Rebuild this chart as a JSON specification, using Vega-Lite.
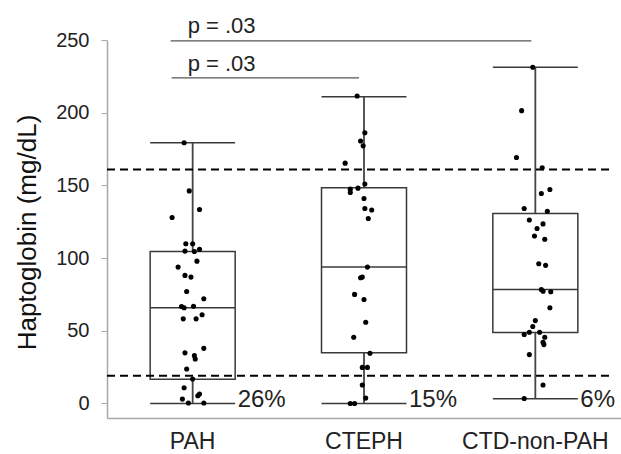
{
  "$schema": "https://vega.github.io/schema/vega-lite/v6.json",
  "width": 514,
  "height": 378,
  "autosize": "none",
  "padding": {"left": 107, "top": 40, "right": 0, "bottom": 36},
  "config": {
    "view": {"stroke": null},
    "font": "Liberation Sans"
  },
  "datasets": {
    "boxes": [
      {"group": "PAH", "lower": 0, "q1": 16.6, "median": 65.8, "q3": 104.6, "upper": 179.3, "pct": "26%"},
      {"group": "CTEPH", "lower": 0, "q1": 34.8, "median": 93.8, "q3": 148.3, "upper": 211, "pct": "15%"},
      {"group": "CTD-non-PAH", "lower": 3.2, "q1": 48.8, "median": 78.4, "q3": 130.6, "upper": 231.3, "pct": "6%"}
    ],
    "points": [
      {"group": "PAH", "value": 179.3, "jitter": -0.10},
      {"group": "PAH", "value": 146.2, "jitter": -0.04},
      {"group": "PAH", "value": 133.4, "jitter": 0.08},
      {"group": "PAH", "value": 127.9, "jitter": -0.24},
      {"group": "PAH", "value": 109.9, "jitter": -0.08},
      {"group": "PAH", "value": 109.9, "jitter": 0.00},
      {"group": "PAH", "value": 104.8, "jitter": -0.09},
      {"group": "PAH", "value": 104.5, "jitter": 0.02},
      {"group": "PAH", "value": 106.0, "jitter": 0.08},
      {"group": "PAH", "value": 97.9, "jitter": 0.05},
      {"group": "PAH", "value": 93.8, "jitter": -0.17},
      {"group": "PAH", "value": 88.1, "jitter": -0.09},
      {"group": "PAH", "value": 86.9, "jitter": -0.02},
      {"group": "PAH", "value": 77.0, "jitter": -0.07},
      {"group": "PAH", "value": 72.0, "jitter": 0.13},
      {"group": "PAH", "value": 66.7, "jitter": -0.13},
      {"group": "PAH", "value": 65.8, "jitter": -0.10},
      {"group": "PAH", "value": 66.9, "jitter": 0.01},
      {"group": "PAH", "value": 61.0, "jitter": 0.11},
      {"group": "PAH", "value": 58.2, "jitter": -0.11},
      {"group": "PAH", "value": 58.2, "jitter": 0.04},
      {"group": "PAH", "value": 37.9, "jitter": 0.13},
      {"group": "PAH", "value": 34.8, "jitter": -0.09},
      {"group": "PAH", "value": 32.9, "jitter": 0.02},
      {"group": "PAH", "value": 30.6, "jitter": 0.03},
      {"group": "PAH", "value": 23.7, "jitter": -0.07},
      {"group": "PAH", "value": 16.8, "jitter": 0.00},
      {"group": "PAH", "value": 10.8, "jitter": -0.10},
      {"group": "PAH", "value": 6.5, "jitter": 0.08},
      {"group": "PAH", "value": 5.3, "jitter": 0.06},
      {"group": "PAH", "value": 3.0, "jitter": -0.12},
      {"group": "PAH", "value": 0.3, "jitter": -0.05},
      {"group": "PAH", "value": 0.3, "jitter": 0.13},
      {"group": "CTEPH", "value": 211.5, "jitter": -0.08},
      {"group": "CTEPH", "value": 186.2, "jitter": 0.01},
      {"group": "CTEPH", "value": 180.5, "jitter": -0.04},
      {"group": "CTEPH", "value": 177.2, "jitter": -0.01},
      {"group": "CTEPH", "value": 165.3, "jitter": -0.22},
      {"group": "CTEPH", "value": 151.0, "jitter": 0.01},
      {"group": "CTEPH", "value": 147.4, "jitter": -0.16},
      {"group": "CTEPH", "value": 148.1, "jitter": -0.07},
      {"group": "CTEPH", "value": 145.1, "jitter": -0.16},
      {"group": "CTEPH", "value": 141.0, "jitter": 0.00},
      {"group": "CTEPH", "value": 134.1, "jitter": 0.01},
      {"group": "CTEPH", "value": 133.1, "jitter": 0.09},
      {"group": "CTEPH", "value": 127.2, "jitter": 0.05},
      {"group": "CTEPH", "value": 93.8, "jitter": 0.04},
      {"group": "CTEPH", "value": 86.5, "jitter": -0.04},
      {"group": "CTEPH", "value": 86.9, "jitter": -0.02},
      {"group": "CTEPH", "value": 75.0, "jitter": -0.11},
      {"group": "CTEPH", "value": 71.5, "jitter": 0.00},
      {"group": "CTEPH", "value": 55.9, "jitter": 0.02},
      {"group": "CTEPH", "value": 45.5, "jitter": -0.12},
      {"group": "CTEPH", "value": 34.5, "jitter": 0.07},
      {"group": "CTEPH", "value": 24.8, "jitter": -0.02},
      {"group": "CTEPH", "value": 24.8, "jitter": 0.04},
      {"group": "CTEPH", "value": 12.7, "jitter": -0.02},
      {"group": "CTEPH", "value": 3.7, "jitter": 0.02},
      {"group": "CTEPH", "value": 0.0, "jitter": -0.16},
      {"group": "CTEPH", "value": 0.0, "jitter": -0.11},
      {"group": "CTD-non-PAH", "value": 231.3, "jitter": -0.03},
      {"group": "CTD-non-PAH", "value": 201.4, "jitter": -0.16},
      {"group": "CTD-non-PAH", "value": 169.2, "jitter": -0.22},
      {"group": "CTD-non-PAH", "value": 162.1, "jitter": 0.08},
      {"group": "CTD-non-PAH", "value": 147.2, "jitter": 0.17},
      {"group": "CTD-non-PAH", "value": 144.4, "jitter": 0.07},
      {"group": "CTD-non-PAH", "value": 134.1, "jitter": -0.13},
      {"group": "CTD-non-PAH", "value": 132.2, "jitter": 0.14},
      {"group": "CTD-non-PAH", "value": 126.2, "jitter": -0.07},
      {"group": "CTD-non-PAH", "value": 123.5, "jitter": 0.09},
      {"group": "CTD-non-PAH", "value": 120.3, "jitter": 0.02},
      {"group": "CTD-non-PAH", "value": 115.2, "jitter": -0.01},
      {"group": "CTD-non-PAH", "value": 112.9, "jitter": 0.11},
      {"group": "CTD-non-PAH", "value": 96.1, "jitter": 0.04},
      {"group": "CTD-non-PAH", "value": 95.0, "jitter": 0.12},
      {"group": "CTD-non-PAH", "value": 78.4, "jitter": 0.07},
      {"group": "CTD-non-PAH", "value": 77.2, "jitter": 0.09},
      {"group": "CTD-non-PAH", "value": 76.8, "jitter": 0.18},
      {"group": "CTD-non-PAH", "value": 65.8, "jitter": 0.17},
      {"group": "CTD-non-PAH", "value": 57.0, "jitter": 0.00},
      {"group": "CTD-non-PAH", "value": 52.9, "jitter": -0.03},
      {"group": "CTD-non-PAH", "value": 49.0, "jitter": -0.07},
      {"group": "CTD-non-PAH", "value": 47.4, "jitter": -0.13},
      {"group": "CTD-non-PAH", "value": 49.0, "jitter": 0.05},
      {"group": "CTD-non-PAH", "value": 45.5, "jitter": 0.11},
      {"group": "CTD-non-PAH", "value": 42.1, "jitter": 0.09},
      {"group": "CTD-non-PAH", "value": 40.5, "jitter": 0.10},
      {"group": "CTD-non-PAH", "value": 33.6, "jitter": -0.07},
      {"group": "CTD-non-PAH", "value": 12.7, "jitter": 0.09},
      {"group": "CTD-non-PAH", "value": 3.4, "jitter": -0.13}
    ],
    "refs": [
      {"bound": "upper", "value": 161},
      {"bound": "lower", "value": 19}
    ],
    "pvals": [
      {"from": "PAH", "to": "CTD-non-PAH", "label": "p = .03", "level": "outer"},
      {"from": "PAH", "to": "CTEPH", "label": "p = .03", "level": "inner"}
    ]
  },
  "layer": [
    {
      "data": {"name": "boxes"},
      "mark": {"type": "rule", "color": "#444", "strokeWidth": 1.8},
      "encoding": {
        "x": {"field": "group", "type": "nominal", "title": null, "scale": {"domain": ["PAH", "CTEPH", "CTD-non-PAH"], "paddingInner": 0, "paddingOuter": 0},
          "axis": {"labelFontSize": 23, "labelColor": "#222", "ticks": false, "tickSize": 0, "labelPadding": 12, "domainColor": "#a8a8a8", "domainWidth": 1.5, "labelAngle": 0, "grid": false, "title": null}},
        "y": {"field": "lower", "type": "quantitative", "title": "Haptoglobin (mg/dL)", "scale": {"domain": [-10, 250], "nice": false, "zero": false},
          "axis": {"values": [0, 50, 100, 150, 200, 250], "labelFontSize": 20, "labelColor": "#222", "tickColor": "#a8a8a8", "tickSize": 6, "labelPadding": 12, "domainColor": "#a8a8a8", "domainWidth": 1.5, "grid": false, "titleFontSize": 26, "titleFontWeight": "normal", "titleColor": "#111", "titleX": -80, "titleY": 192, "titleAlign": "center", "titleBaseline": "middle", "titleAngle": -90}},
        "y2": {"field": "upper"}
      }
    },
    {
      "data": {"name": "boxes"},
      "mark": {"type": "bar", "fill": "white", "stroke": "#3a3a3a", "strokeWidth": 1.5, "size": 85},
      "encoding": {
        "x": {"field": "group", "type": "nominal", "title": null, "scale": {"domain": ["PAH", "CTEPH", "CTD-non-PAH"], "paddingInner": 0, "paddingOuter": 0}},
        "y": {"field": "q1", "type": "quantitative", "title": "Haptoglobin (mg/dL)", "scale": {"domain": [-10, 250], "nice": false, "zero": false}},
        "y2": {"field": "q3"}
      }
    },
    {
      "data": {"name": "boxes"},
      "mark": {"type": "tick", "color": "#3a3a3a", "thickness": 1.5, "size": 85, "opacity": 1},
      "encoding": {
        "x": {"field": "group", "type": "nominal", "title": null, "scale": {"domain": ["PAH", "CTEPH", "CTD-non-PAH"], "paddingInner": 0, "paddingOuter": 0}},
        "y": {"field": "median", "type": "quantitative", "title": "Haptoglobin (mg/dL)", "scale": {"domain": [-10, 250], "nice": false, "zero": false}}
      }
    },
    {
      "data": {"name": "boxes"},
      "mark": {"type": "tick", "color": "#3a3a3a", "thickness": 1.5, "size": 85, "opacity": 1},
      "encoding": {
        "x": {"field": "group", "type": "nominal", "title": null, "scale": {"domain": ["PAH", "CTEPH", "CTD-non-PAH"], "paddingInner": 0, "paddingOuter": 0}},
        "y": {"field": "upper", "type": "quantitative", "title": "Haptoglobin (mg/dL)", "scale": {"domain": [-10, 250], "nice": false, "zero": false}}
      }
    },
    {
      "data": {"name": "boxes"},
      "mark": {"type": "tick", "color": "#3a3a3a", "thickness": 1.5, "size": 85, "opacity": 1},
      "encoding": {
        "x": {"field": "group", "type": "nominal", "title": null, "scale": {"domain": ["PAH", "CTEPH", "CTD-non-PAH"], "paddingInner": 0, "paddingOuter": 0}},
        "y": {"field": "lower", "type": "quantitative", "title": "Haptoglobin (mg/dL)", "scale": {"domain": [-10, 250], "nice": false, "zero": false}}
      }
    },
    {
      "data": {"name": "points"},
      "mark": {"type": "circle", "color": "black", "opacity": 1, "size": 26},
      "encoding": {
        "x": {"field": "group", "type": "nominal", "title": null, "scale": {"domain": ["PAH", "CTEPH", "CTD-non-PAH"], "paddingInner": 0, "paddingOuter": 0}},
        "xOffset": {"field": "jitter", "type": "quantitative", "scale": {"domain": [-1, 1]}},
        "y": {"field": "value", "type": "quantitative", "title": "Haptoglobin (mg/dL)", "scale": {"domain": [-10, 250], "nice": false, "zero": false}}
      }
    },
    {
      "data": {"name": "refs"},
      "mark": {"type": "rule", "color": "black", "strokeWidth": 2, "strokeDash": [8, 5], "xOffset": -12},
      "encoding": {
        "y": {"field": "value", "type": "quantitative", "title": "Haptoglobin (mg/dL)", "scale": {"domain": [-10, 250], "nice": false, "zero": false}}
      }
    },
    {
      "data": {"name": "pvals"},
      "transform": [{"filter": "datum.level === 'outer'"}],
      "layer": [
        {
          "mark": {"type": "rule", "color": "#555", "strokeWidth": 1.3, "xOffset": -22, "x2Offset": -4},
          "encoding": {
            "x": {"field": "from", "type": "nominal", "title": null, "scale": {"domain": ["PAH", "CTEPH", "CTD-non-PAH"], "paddingInner": 0, "paddingOuter": 0}},
            "x2": {"field": "to"},
            "y": {"datum": 249.4, "type": "quantitative", "title": "Haptoglobin (mg/dL)", "scale": {"domain": [-10, 250], "nice": false, "zero": false}}
          }
        },
        {
          "mark": {"type": "text", "color": "#222", "fontSize": 22, "align": "left", "baseline": "alphabetic", "dx": -5},
          "encoding": {
            "x": {"field": "from", "type": "nominal", "title": null, "scale": {"domain": ["PAH", "CTEPH", "CTD-non-PAH"], "paddingInner": 0, "paddingOuter": 0}},
            "y": {"datum": 254.8, "type": "quantitative", "title": "Haptoglobin (mg/dL)", "scale": {"domain": [-10, 250], "nice": false, "zero": false}},
            "text": {"field": "label"}
          }
        }
      ]
    },
    {
      "data": {"name": "pvals"},
      "transform": [{"filter": "datum.level === 'inner'"}],
      "layer": [
        {
          "mark": {"type": "rule", "color": "#555", "strokeWidth": 1.3, "xOffset": -21, "x2Offset": -5},
          "encoding": {
            "x": {"field": "from", "type": "nominal", "title": null, "scale": {"domain": ["PAH", "CTEPH", "CTD-non-PAH"], "paddingInner": 0, "paddingOuter": 0}},
            "x2": {"field": "to"},
            "y": {"datum": 223.9, "type": "quantitative", "title": "Haptoglobin (mg/dL)", "scale": {"domain": [-10, 250], "nice": false, "zero": false}}
          }
        },
        {
          "mark": {"type": "text", "color": "#222", "fontSize": 22, "align": "left", "baseline": "alphabetic", "dx": -5},
          "encoding": {
            "x": {"field": "from", "type": "nominal", "title": null, "scale": {"domain": ["PAH", "CTEPH", "CTD-non-PAH"], "paddingInner": 0, "paddingOuter": 0}},
            "y": {"datum": 229, "type": "quantitative", "title": "Haptoglobin (mg/dL)", "scale": {"domain": [-10, 250], "nice": false, "zero": false}},
            "text": {"field": "label"}
          }
        }
      ]
    },
    {
      "data": {"name": "boxes"},
      "mark": {"type": "text", "color": "#222", "fontSize": 24, "align": "left", "baseline": "alphabetic", "dx": 45, "dy": 4},
      "encoding": {
        "x": {"field": "group", "type": "nominal", "title": null, "scale": {"domain": ["PAH", "CTEPH", "CTD-non-PAH"], "paddingInner": 0, "paddingOuter": 0}},
        "y": {"datum": 0, "type": "quantitative", "title": "Haptoglobin (mg/dL)", "scale": {"domain": [-10, 250], "nice": false, "zero": false}},
        "text": {"field": "pct"}
      }
    }
  ]
}
